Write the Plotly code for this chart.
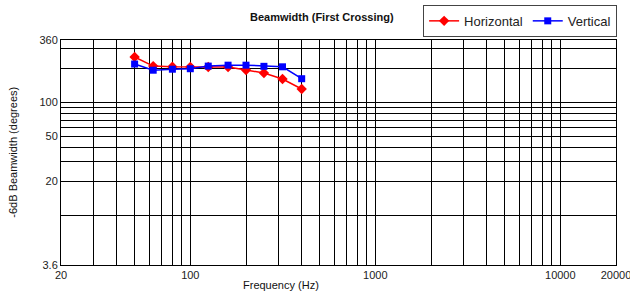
import plotly.graph_objects as go

freq = [50, 63, 80, 100, 125, 160, 200, 250, 315, 400]
horizontal = [254, 211, 208, 207, 207, 207, 195, 183, 162, 132]
vertical = [220, 194, 198, 200, 211, 215, 215, 210, 208, 163]

x_ticks = [20, 100, 1000, 10000, 20000]
y_ticks = [3.6, 20, 50, 100, 360]
x_grid = [30, 40, 50, 60, 70, 80, 90, 200, 300, 400, 500, 600, 700, 800, 900,
          2000, 3000, 4000, 5000, 6000, 7000, 8000, 9000]
y_grid = [10, 30, 40, 60, 70, 80, 90, 200, 300]

FONT = "Liberation Sans, Arial, sans-serif"

fig = go.Figure()
fig.add_trace(go.Scatter(x=freq, y=horizontal, name="Horizontal", mode="lines+markers",
                         line=dict(color="#ff0000", width=1.5),
                         marker=dict(symbol="diamond", size=8, color="#ff0000")))
fig.add_trace(go.Scatter(x=freq, y=vertical, name="Vertical", mode="lines+markers",
                         line=dict(color="#0000ff", width=1.5),
                         marker=dict(symbol="square", size=7, color="#0000ff")))

axis_common = dict(showline=True, linecolor="black", linewidth=1, mirror=True,
                   gridcolor="black", gridwidth=1, ticks="", zeroline=False,
                   ticklabeloverflow="allow",
                   tickfont=dict(family=FONT, size=11, color="#222"))

fig.update_xaxes(type="log", range=[1.30103, 4.30103], tickmode="array",
                 tickvals=x_ticks, ticktext=[str(v) for v in x_ticks],
                 minor=dict(tickmode="array", tickvals=x_grid, showgrid=True,
                            gridcolor="black", gridwidth=1, ticklen=0),
                 **axis_common)
fig.update_yaxes(type="log", range=[0.5563, 2.5563], tickmode="array",
                 tickvals=y_ticks, ticktext=[str(v) for v in y_ticks],
                 minor=dict(tickmode="array", tickvals=y_grid, showgrid=True,
                            gridcolor="black", gridwidth=1, ticklen=0),
                 **axis_common)

fig.update_layout(
    width=630, height=296,
    margin=dict(l=61, r=14, t=40, b=31, autoexpand=False),
    paper_bgcolor="white", plot_bgcolor="white",
    showlegend=True,
    legend=dict(orientation="h", x=1.002, xanchor="right", y=1.156, yanchor="top",
                bordercolor="#444", borderwidth=1, bgcolor="white",
                font=dict(family=FONT, size=13, color="#222"),
                itemwidth=30, tracegroupgap=0),
    annotations=[
        dict(text="<b>Beamwidth (First Crossing)</b>", xref="paper", yref="paper",
             x=0.47, y=1.1, xanchor="center", yanchor="middle", showarrow=False,
             font=dict(family=FONT, size=11, color="#111")),
        dict(text="Frequency (Hz)", xref="paper", yref="paper",
             x=0.397, y=-0.089, xanchor="center", yanchor="middle", showarrow=False,
             font=dict(family=FONT, size=11, color="#111")),
        dict(text="-6dB Beamwidth (degrees)", xref="paper", yref="paper",
             x=-0.088, y=0.5, xanchor="center", yanchor="middle", showarrow=False,
             textangle=-90, font=dict(family=FONT, size=11, color="#111")),
    ],
)

fig.write_html("out.html", config={"displayModeBar": False},
               post_script="document.body.style.margin='0';")
